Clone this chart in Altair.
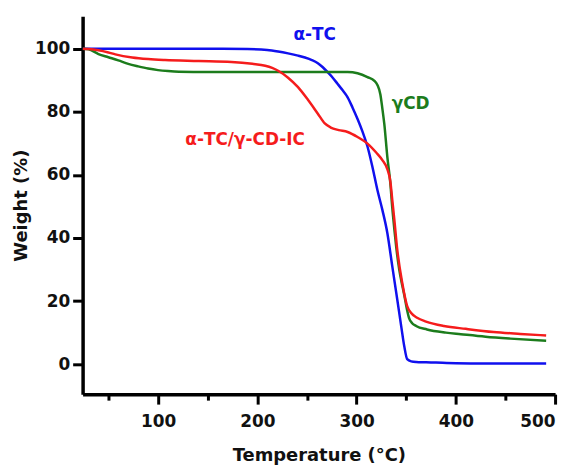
import altair as alt
import pandas as pd

series_names = ["α-TC", "γCD", "α-TC/γ-CD-IC"]
series_colors = ["#1010ee", "#1c7c1c", "#f51c1c"]

atc_T = [24, 60, 100, 150, 190, 210, 221, 231, 241, 248, 255, 261, 266, 271, 276, 281, 286, 291, 296, 301,
         306, 311, 316, 321, 326, 331, 336, 341, 345, 348, 351, 355, 360, 370, 380, 400, 430, 460, 491]
atc_W = [100, 100, 100, 100, 99.9, 99.6, 99.1, 98.5, 97.8, 97.2, 96.4, 95.4, 94.1, 92.5, 90.8, 88.8, 86.8, 84.6, 81.3, 77.7,
         73.7, 69.0, 62.5, 55.2, 48.9, 41.6, 31.0, 20.5, 12.0, 5.8, 1.6, 0.9, 0.7, 0.6, 0.5, 0.3, 0.2, 0.2, 0.2]

gcd_T = [24, 30, 40, 50, 60, 70, 80, 90, 100, 110, 121, 150, 200, 250, 291, 301, 311, 318, 321, 324,
         326, 328, 331, 334, 336, 338, 340, 343, 346, 348, 351, 353, 356, 360, 371, 390, 405, 430, 455, 491]
gcd_W = [100, 99.8, 98.3, 97.3, 96.3, 95.2, 94.4, 93.7, 93.2, 92.9, 92.7, 92.6, 92.6, 92.6, 92.6, 92.2, 91.0, 89.8, 88.5, 85.5,
         81.0, 76.0, 65.7, 57.5, 49.5, 43.0, 37.0, 30.0, 25.0, 22.0, 17.0, 14.5, 13.0, 12.1, 11.0, 10.0, 9.5, 8.7, 8.1, 7.4]

red_T = [24, 30, 40, 50, 57, 74, 90, 107, 141, 174, 195, 208, 215, 221, 231, 241, 251, 261, 268, 274, 282,
         291, 301, 311, 320, 326, 331, 334, 336, 338, 341, 346, 351, 355, 361, 370, 388, 410, 438, 465, 491]
red_W = [100, 99.9, 99.5, 98.8, 98.2, 97.2, 96.7, 96.4, 96.1, 95.8, 95.2, 94.6, 93.9, 93.0, 90.8, 87.8, 83.8, 79.4, 76.3, 75.0, 74.2,
         73.6, 72.0, 69.9, 67.0, 64.7, 61.8, 58.0, 52.0, 46.0, 36.3, 25.8, 18.4, 16.2, 14.7, 13.5, 12.1, 11.2, 10.2, 9.6, 9.1]

label_T = [257.8, 354.5, 187.7]
label_W = [104.2, 82.4, 70.9]

x_ticks = [50, 100, 150, 200, 250, 300, 350, 400, 450, 500]
y_ticks = [0, 10, 20, 30, 40, 50, 60, 70, 80, 90, 100]

rows = []
for name, Ts, Ws in zip(series_names, [atc_T, gcd_T, red_T], [atc_W, gcd_W, red_W]):
    for i, (t, w) in enumerate(zip(Ts, Ws)):
        rows.append({"series": name, "T": t, "W": w, "i": i})
df = pd.DataFrame(rows)
labels_df = pd.DataFrame({"series": series_names, "T": label_T, "W": label_W})

FONT = "DejaVu Sans"
x_scale = alt.Scale(domain=[24, 500], nice=False, zero=False)
y_scale = alt.Scale(domain=[-9.5, 110.3], nice=False, zero=False)
color_scale = alt.Scale(domain=series_names, range=series_colors)

x_axis = alt.Axis(
    values=x_ticks,
    labelExpr="datum.value % 100 === 0 ? datum.label : ''",
    tickSize={"condition": {"test": "datum.value % 100 === 0", "value": 10}, "value": 6},
    title="Temperature (°C)",
    titlePadding=17,
    labelPadding=10,
)
y_axis = alt.Axis(
    values=y_ticks,
    labelExpr="datum.value % 20 === 0 ? datum.label : ''",
    tickSize={"condition": {"test": "datum.value % 20 === 0", "value": 10}, "value": 6},
    title="Weight (%)",
    titlePadding=4,
    labelPadding=3,
)

lines = alt.Chart(df).mark_line(strokeWidth=2.5, clip=True, interpolate="monotone").encode(
    x=alt.X("T:Q", scale=x_scale, axis=x_axis),
    y=alt.Y("W:Q", scale=y_scale, axis=y_axis),
    color=alt.Color("series:N", scale=color_scale, legend=None),
    order=alt.Order("i:Q"),
)

texts = alt.Chart(labels_df).mark_text(font=FONT, fontSize=17, fontWeight="bold").encode(
    x=alt.X("T:Q", scale=x_scale),
    y=alt.Y("W:Q", scale=y_scale),
    text="series:N",
    color=alt.Color("series:N", scale=color_scale, legend=None),
)

chart = (lines + texts).properties(
    width=475,
    height=380,
    autosize=alt.AutoSizeParams(type="none"),
    padding={"left": 75, "top": 7, "right": 15, "bottom": 70},
).configure_view(stroke=None).configure_axis(
    grid=False,
    domainColor="black",
    domainWidth=3.5,
    tickColor="black",
    tickWidth=3,
    labelFont=FONT,
    labelFontSize=17,
    labelFontWeight="bold",
    labelColor="#111111",
    titleFont=FONT,
    titleFontSize=18,
    titleFontWeight="bold",
    titleColor="#111111",
)

chart.save("out.html", embed_options={"renderer": "svg", "actions": False})
